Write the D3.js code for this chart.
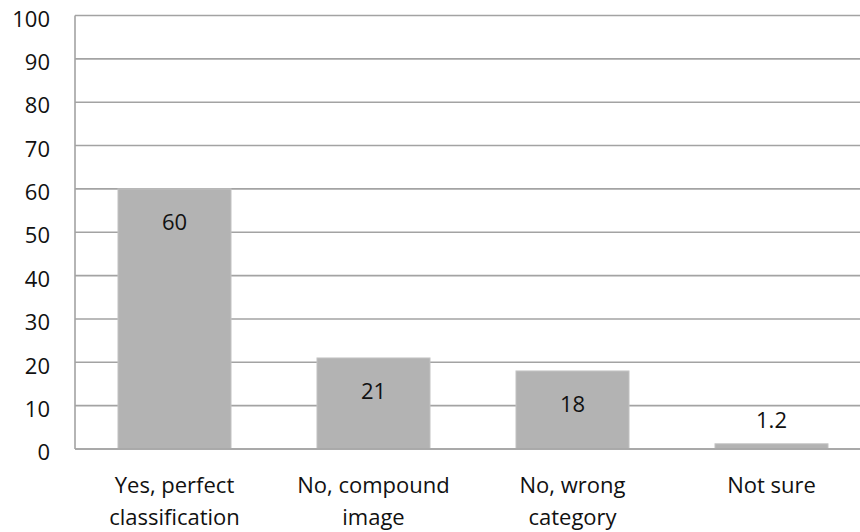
<!DOCTYPE html>
<html>
<head>
<meta charset="utf-8">
<script src="https://cdn.jsdelivr.net/npm/d3@7"></script>
<style>
  html, body { margin: 0; padding: 0; background: #fff; }
  svg text { font-family: "Open Sans", Lato, sans-serif; fill: #111; }
</style>
</head>
<body>
<svg id="chart" width="860" height="532"></svg>
<script>
// Responses per category
const categories = [
  ["Yes, perfect", "classification"],
  ["No, compound", "image"],
  ["No, wrong", "category"],
  ["Not sure"]
];
const values = [60, 21, 18, 1.2];
const valueLabels = ["60", "21", "18", "1.2"];
const yTicks = [0, 10, 20, 30, 40, 50, 60, 70, 80, 90, 100];

const svg = d3.select("#chart");
const plotLeft = 75, plotTop = 15.5, plotBottom = 449, bandStep = 199;
const plotRight = plotLeft + bandStep * categories.length;
const fontSize = 22;

const x = d3.scaleBand()
  .domain(d3.range(categories.length))
  .range([plotLeft, plotRight])
  .paddingInner(0.432)
  .paddingOuter(0.216);

const y = d3.scaleLinear().domain([0, 100]).range([plotBottom, plotTop]);

const gridColor = "#a3a3a3";

// Horizontal gridlines
svg.append("g")
  .selectAll("line")
  .data(yTicks)
  .join("line")
  .attr("x1", plotLeft)
  .attr("x2", plotRight)
  .attr("y1", d => y(d))
  .attr("y2", d => y(d))
  .attr("stroke", gridColor)
  .attr("stroke-width", 1.6);

// Left axis line
svg.append("line")
  .attr("x1", plotLeft).attr("x2", plotLeft)
  .attr("y1", plotTop).attr("y2", plotBottom)
  .attr("stroke", gridColor)
  .attr("stroke-width", 1.6);

// Y tick labels
svg.append("g")
  .selectAll("text")
  .data(yTicks)
  .join("text")
  .attr("x", 50)
  .attr("y", d => y(d) + 3.5)
  .attr("dy", "0.35em")
  .attr("text-anchor", "end")
  .attr("font-size", fontSize)
  .text(d => d);

// Bars
svg.append("g")
  .selectAll("rect")
  .data(values)
  .join("rect")
  .attr("x", (d, i) => x(i))
  .attr("width", x.bandwidth())
  .attr("y", d => y(d))
  .attr("height", d => plotBottom - y(d))
  .attr("fill", "#b3b3b3")
  .attr("stroke", "#c4c4c4")
  .attr("stroke-width", 1);

// Redraw the baseline on top of the bars
svg.append("line")
  .attr("x1", plotLeft).attr("x2", plotRight)
  .attr("y1", plotBottom).attr("y2", plotBottom)
  .attr("stroke", gridColor)
  .attr("stroke-width", 1.6);

// Value labels: inside the bar near its top, or above it when the bar is short
svg.append("g")
  .selectAll("text")
  .data(values)
  .join("text")
  .attr("x", (d, i) => x(i) + x.bandwidth() / 2)
  .attr("y", d => (plotBottom - y(d) > 50 ? y(d) + 33 : y(d) - 23))
  .attr("dy", "0.35em")
  .attr("text-anchor", "middle")
  .attr("font-size", fontSize)
  .text((d, i) => valueLabels[i]);

// Category labels
const cat = svg.append("g")
  .selectAll("text")
  .data(categories)
  .join("text")
  .attr("x", (d, i) => x(i) + x.bandwidth() / 2)
  .attr("y", 493)
  .attr("text-anchor", "middle")
  .attr("font-size", fontSize);
cat.selectAll("tspan")
  .data(d => d)
  .join("tspan")
  .attr("x", function () { return this.parentNode.getAttribute("x"); })
  .attr("dy", (d, i) => (i === 0 ? 0 : 31.7))
  .text(d => d);
</script>
</body>
</html>
